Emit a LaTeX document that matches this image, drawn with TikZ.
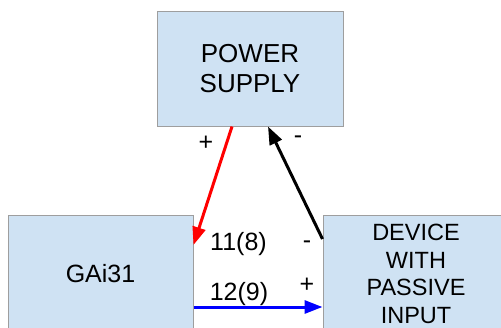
\documentclass[tikz,border=0pt]{standalone}
\usepackage{fontspec}
\setmainfont{Liberation Sans}
\usetikzlibrary{arrows.meta,calc}
\definecolor{boxfill}{HTML}{CFE2F3}
\definecolor{boxline}{HTML}{9E9E9E}
\definecolor{wirered}{HTML}{FF0000}
\definecolor{wireblue}{HTML}{0000FF}
\begin{document}
\begin{tikzpicture}[x=1pt,y=-1pt,
  box/.style={draw=boxline,fill=boxfill,line width=1pt,minimum width=186pt,
    inner sep=0pt,align=center,font=\fontsize{25}{30}\selectfont},
  wire/.style={line width=3pt,-{Triangle[length=18pt,width=13pt]}},
  lbl/.style={inner sep=0pt,font=\fontsize{25}{30}\selectfont}]
\useasboundingbox (0,0) rectangle (501,327);
\clip (0,0) rectangle (501,327);
\node[box,minimum height=115pt,font=\fontsize{26}{30}\selectfont] (power) at (250,68.5) {POWER\\SUPPLY};
\node[box,minimum width=185pt,minimum height=118pt] (gai) at (100.5,274) {GAi31};
\node[box,minimum height=118pt,font=\fontsize{23.5}{27.5}\selectfont] (dev) at (416,274) {DEVICE\\WITH\\PASSIVE\\INPUT};
\draw[wire,draw=wirered,-{Triangle[length=18pt,width=13pt,fill=wirered]}] ($(power.south)+(-18,0)$) -- ($(gai.east)+(0,-29)$);
\draw[wire,draw=black] ($(dev.west)+(0,-35)$) -- ($(power.south)+(18,0)$);
\draw[wire,draw=wireblue] ($(gai.east)+(0,33)$) -- ($(dev.west)+(0,33)$);
\node[lbl] (pplus) at (206,143) {+};
\node[lbl] (pminus) at (298,140) {-};
\node[lbl,anchor=base] (l11) at (238.5,250) {11(8)};
\node[lbl,anchor=base] (l12) at (239,300) {12(9)};
\node[lbl] (dminus) at (307,245) {-};
\node[lbl] (dplus) at (307,285) {+};
\end{tikzpicture}
\end{document}
